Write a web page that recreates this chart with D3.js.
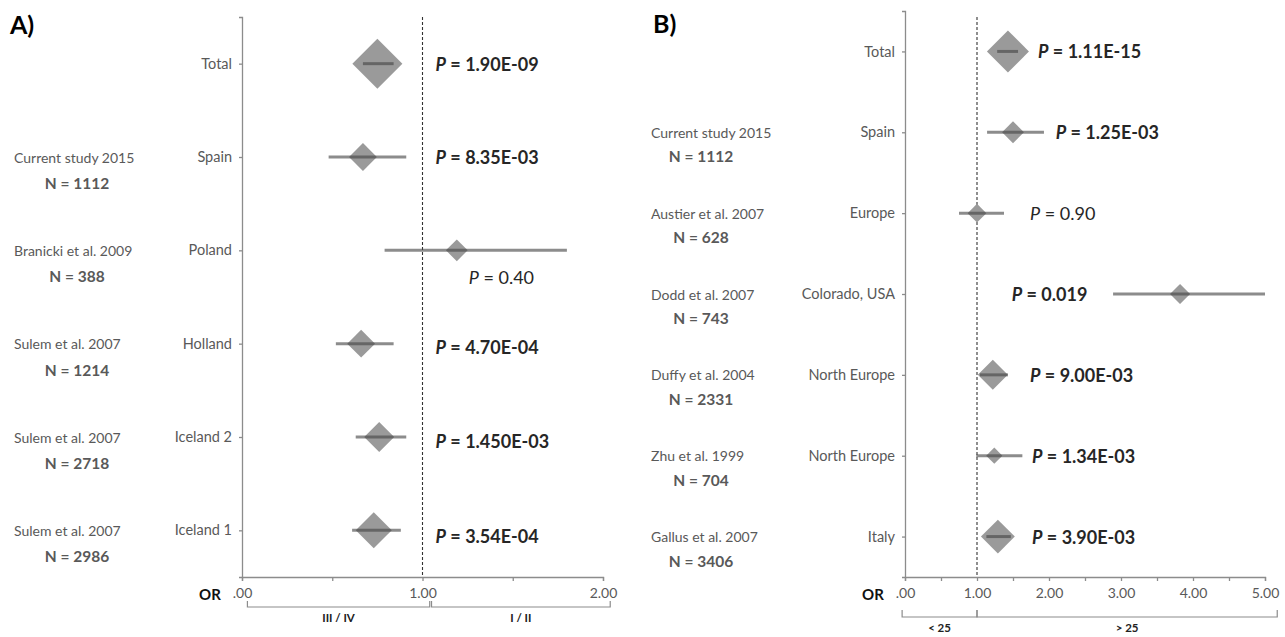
<!DOCTYPE html>
<html>
<head>
<meta charset="utf-8">
<script src="https://cdn.jsdelivr.net/npm/d3@7"></script>
<style>
  body { margin: 0; background: #fff; }
  svg { display: block; }
  text { font-family: Lato, "Open Sans", "DejaVu Sans", sans-serif; }
</style>
</head>
<body>
<svg id="chart" width="1285" height="637"></svg>
<script>
// ---------- Panel A: odds ratios by population ----------
const regionsA = ["Total", "Spain", "Poland", "Holland", "Iceland 2", "Iceland 1"];
const studiesA = [null, "Current study 2015", "Branicki et al. 2009", "Sulem et al. 2007", "Sulem et al. 2007", "Sulem et al. 2007"];
const sampleSizesA = [null, 1112, 388, 1214, 2718, 2986];
const oddsA   = [0.75, 0.67, 1.19, 0.66, 0.76, 0.73];
const ciLowA  = [0.67, 0.48, 0.79, 0.52, 0.63, 0.61];
const ciHighA = [0.84, 0.91, 1.80, 0.84, 0.91, 0.88];
const weightsA = [100, 31, 19, 31, 36, 52];
const pValuesA = ["1.90E-09", "8.35E-03", "0.40", "4.70E-04", "1.450E-03", "3.54E-04"];
const xTicksA = [0, 0.5, 1, 1.5, 2];
const groupsA = ["III / IV", "I / II"];

// ---------- Panel B: odds ratios by population ----------
const regionsB = ["Total", "Spain", "Europe", "Colorado, USA", "North Europe", "North Europe", "Italy"];
const studiesB = [null, "Current study 2015", "Austier et al. 2007", "Dodd et al. 2007", "Duffy et al. 2004", "Zhu et al. 1999", "Gallus et al. 2007"];
const sampleSizesB = [null, 1112, 628, 743, 2331, 704, 3406];
const oddsB   = [1.43, 1.50, 1.00, 3.82, 1.22, 1.24, 1.29];
const ciLowB  = [1.28, 1.14, 0.75, 2.89, 1.04, 0.99, 1.13];
const ciHighB = [1.57, 1.93, 1.375, 5.00, 1.43, 1.63, 1.47];
const weightsB = [100, 27, 20, 23, 51, 15, 65];
const pValuesB = ["1.11E-15", "1.25E-03", "0.90", "0.019", "9.00E-03", "1.34E-03", "3.90E-03"];
const xTicksB = [0, 0.5, 1, 1.5, 2, 2.5, 3, 3.5, 4, 4.5, 5];
const groupsB = ["< 25", "> 25"];

// ---------- layout ----------
const panels = [
  {
    title: "A)", titleX: 10, titleY: 34,
    regions: regionsA, studies: studiesA, ns: sampleSizesA,
    or: oddsA, lo: ciLowA, hi: ciHighA, w: weightsA, p: pValuesA,
    ticks: xTicksA, xDomain: [0, 2], xRange: [242, 603], yRange: [17, 577],
    refTop: 17, maxHalf: 25,
    studyX: 14, nX: 77, nDy: 26,
    orLabelX: 210,
    // P-label anchor (x in OR units, y offset from row)
    pAnchor: [[1.072, 0], [1.072, 0], [1.256, 27], [1.072, 3], [1.072, 4], [1.072, 6]],
    groups: groupsA, groupSpan: [[0.03, 1.04], [1.05, 2.04]],
    bracketY: 607, bracketEnd: 6, groupLabelY: 617
  },
  {
    title: "B)", titleX: 653, titleY: 33,
    regions: regionsB, studies: studiesB, ns: sampleSizesB,
    or: oddsB, lo: ciLowB, hi: ciHighB, w: weightsB, p: pValuesB,
    ticks: xTicksB, xDomain: [0, 5], xRange: [905, 1265], yRange: [11, 577],
    refTop: 17, maxHalf: 21,
    studyX: 651, nX: 701, nDy: 24,
    orLabelX: 873,
    pAnchor: [[1.847, 0], [2.093, 0], [1.736, 0], [1.482, 0], [1.736, 0], [1.764, 0], [1.764, 0]],
    groups: groupsB, groupSpan: [[-0.04, 1.0], [1.0, 5.17]],
    bracketY: 617, bracketEnd: 7, groupLabelY: 627
  }
];

const svg = d3.select("#chart");
const axisColor = "#8c8c8c";
const labelColor = "#595959";

panels.forEach(cfg => {
  const g = svg.append("g");
  const idx = cfg.regions.map((_, i) => i);

  const x = d3.scaleLinear().domain(cfg.xDomain).range(cfg.xRange);
  const y = d3.scalePoint().domain(idx).range(cfg.yRange).padding(0.5);
  const half = d3.scaleSqrt().domain([0, 100]).range([0, cfg.maxHalf]);

  // title
  g.append("text").attr("x", cfg.titleX).attr("y", cfg.titleY)
    .attr("font-size", 25).attr("font-weight", 700).attr("fill", "#000")
    .text(cfg.title);

  // y axis with region names
  const yAxis = g.append("g").attr("transform", `translate(${cfg.xRange[0]},0)`)
    .call(d3.axisLeft(y).tickSizeInner(3).tickSizeOuter(3).tickPadding(7)
      .tickFormat(i => cfg.regions[i]));
  yAxis.selectAll("path, line").attr("stroke", axisColor).attr("stroke-width", 1.3);
  yAxis.selectAll("text").attr("font-size", 14.5).attr("fill", labelColor)
    .attr("font-family", "Lato, sans-serif");

  // x axis
  const xAxis = g.append("g").attr("transform", `translate(0,${cfg.yRange[1]})`)
    .call(d3.axisBottom(x).tickValues(cfg.ticks).tickSizeInner(4).tickSizeOuter(4).tickPadding(7)
      .tickFormat(d => Number.isInteger(d) ? (d === 0 ? ".00" : d.toFixed(2)) : ""));
  xAxis.selectAll("path, line").attr("stroke", axisColor).attr("stroke-width", 1.3);
  xAxis.selectAll("text").attr("font-size", 14).attr("fill", labelColor)
    .attr("font-family", "Lato, sans-serif");

  // "OR" caption
  g.append("text").attr("x", cfg.orLabelX).attr("y", cfg.yRange[1] + 17)
    .attr("text-anchor", "middle").attr("dominant-baseline", "central")
    .attr("font-size", 15).attr("font-weight", 700).attr("fill", "#111")
    .text("OR");

  // reference line at OR = 1
  g.append("line")
    .attr("x1", x(1)).attr("x2", x(1))
    .attr("y1", cfg.refTop).attr("y2", cfg.yRange[1])
    .attr("stroke", "#333").attr("stroke-width", 1.1).attr("stroke-dasharray", "3,2");

  // group brackets under the axis
  const brY = cfg.bracketY, brTop = brY - cfg.bracketEnd;
  cfg.groups.forEach((name, k) => {
    const [a, b] = cfg.groupSpan[k];
    g.append("path")
      .attr("d", `M${x(a)},${brTop}V${brY}H${x(b)}V${brTop}`)
      .attr("fill", "none").attr("stroke", axisColor).attr("stroke-width", 1.2);
    g.append("text").attr("x", (x(a) + x(b)) / 2).attr("y", cfg.groupLabelY)
      .attr("text-anchor", "middle").attr("dominant-baseline", "central")
      .attr("font-size", 11.5).attr("font-weight", 700).attr("fill", "#222")
      .text(name);
  });

  // study names and sample sizes
  idx.forEach(i => {
    if (!cfg.studies[i]) return;
    g.append("text").attr("x", cfg.studyX).attr("y", y(i))
      .attr("dominant-baseline", "central")
      .attr("font-size", 14).attr("fill", labelColor).text(cfg.studies[i]);
    g.append("text").attr("x", cfg.nX).attr("y", y(i) + cfg.nDy)
      .attr("text-anchor", "middle").attr("dominant-baseline", "central")
      .attr("font-size", 15.5).attr("font-weight", 700).attr("fill", labelColor)
      .text(`N = ${cfg.ns[i]}`);
  });

  // diamonds (size by weight)
  g.selectAll(".diamond").data(idx).join("path")
    .attr("class", "diamond")
    .attr("d", i => {
      const cx = x(cfg.or[i]), cy = y(i), h = half(cfg.w[i]);
      return `M${cx - h},${cy}L${cx},${cy - h}L${cx + h},${cy}L${cx},${cy + h}Z`;
    })
    .attr("fill", "#9a9a9a");

  // confidence intervals
  g.selectAll(".ci").data(idx).join("line")
    .attr("class", "ci")
    .attr("x1", i => x(cfg.lo[i])).attr("x2", i => x(cfg.hi[i]))
    .attr("y1", i => y(i)).attr("y2", i => y(i))
    .attr("stroke", "rgba(70,70,70,0.62)").attr("stroke-width", 3);

  // P values (bold when significant)
  idx.forEach(i => {
    const sig = +cfg.p[i] < 0.05;
    const [ax, dy] = cfg.pAnchor[i];
    const t = g.append("text").attr("x", x(ax)).attr("y", y(i) + dy)
      .attr("dominant-baseline", "central")
      .attr("font-size", 18).attr("font-weight", sig ? 700 : 400)
      .attr("fill", "#262626");
    t.append("tspan").attr("font-style", "italic").text("P");
    t.append("tspan").text(` = ${cfg.p[i]}`);
  });
});
</script>
</body>
</html>
